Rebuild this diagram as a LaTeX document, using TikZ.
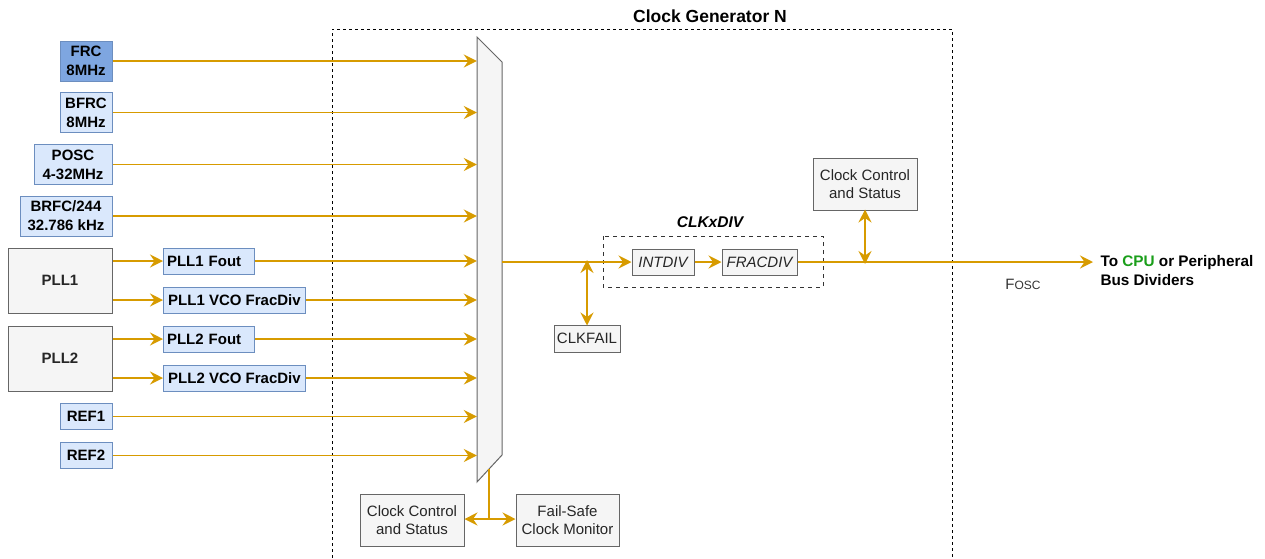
\documentclass[tikz,border=0pt]{standalone}
\usepackage{fontspec}
\setmainfont{Liberation Sans}
\usetikzlibrary{arrows.meta}
\definecolor{lnc}{HTML}{D79B00}
\definecolor{bfill}{HTML}{DAE8FC}
\definecolor{bdark}{HTML}{7EA6E0}
\definecolor{bstroke}{HTML}{6C8EBF}
\definecolor{gfill}{HTML}{F5F5F5}
\definecolor{gstroke}{HTML}{666666}
\definecolor{cpugreen}{HTML}{1A9E1A}
\begin{document}
\begin{tikzpicture}[x=1pt,y=-1pt,
  font=\fontsize{15}{18}\selectfont,
  bbox/.style={draw=bstroke,fill=bfill,line width=1pt,inner sep=0pt,align=center,font=\fontsize{15}{19}\selectfont\bfseries},
  gbox/.style={draw=gstroke,fill=gfill,line width=1pt,inner sep=0pt,align=center,text=black!85},
  ln/.style={draw=lnc,line width=1.8pt},
  arr/.style={ln,-{Stealth[length=13pt,width=13pt,inset=4.5pt]}},
  arrb/.style={ln,{Stealth[length=13pt,width=13pt,inset=4.5pt]}-{Stealth[length=13pt,width=13pt,inset=4.5pt]}}]
\useasboundingbox (0,0) rectangle (1265,558);
% outer dashed box
\draw[line width=1pt,dash pattern=on 3pt off 3pt] (332,558) -- (332,29) -- (952,29) -- (952,558);
\node[font=\fontsize{17.5}{20}\selectfont\bfseries] (title) at (710,16) {Clock Generator N};
% mux
\node[minimum width=25pt,minimum height=445pt,inner sep=0pt] (mux) at (489.5,259.5) {};
\draw[draw=gstroke,fill=gfill,line width=1pt] (477,37) -- (502,62) -- (502,455) -- (477,482) -- cycle;
% left sources
\node[bbox,fill=bdark,minimum width=52pt,minimum height=40pt] (frc) at (86,61) {FRC\\8MHz};
\node[bbox,minimum width=52pt,minimum height=40pt] (bfrc) at (86,112.5) {BFRC\\8MHz};
\node[bbox,minimum width=78pt,minimum height=40pt] (posc) at (73,164.5) {POSC\\4-32MHz};
\node[bbox,minimum width=92pt,minimum height=40pt] (brfc) at (66,216) {BRFC/244\\32.786 kHz};
\node[gbox,minimum width=104pt,minimum height=65pt,font=\fontsize{15}{18}\selectfont\bfseries] (pll1) at (60,280.5) {PLL1};
\node[gbox,minimum width=104pt,minimum height=65pt,font=\fontsize{15}{18}\selectfont\bfseries] (pll2) at (60,358.5) {PLL2};
\node[bbox,minimum width=91pt,minimum height=26pt,anchor=west,text width=89pt,align=left] (p1f) at (163,261) {\,PLL1 Fout};
\node[bbox,minimum width=142pt,minimum height=26pt,anchor=west] (p1v) at (163,300) {PLL1 VCO FracDiv};
\node[bbox,minimum width=91pt,minimum height=26pt,anchor=west,text width=89pt,align=left] (p2f) at (163,339) {\,PLL2 Fout};
\node[bbox,minimum width=142pt,minimum height=26pt,anchor=west] (p2v) at (163,378) {PLL2 VCO FracDiv};
\node[bbox,minimum width=52pt,minimum height=26pt] (ref1) at (86,416.5) {REF1};
\node[bbox,minimum width=52pt,minimum height=26pt] (ref2) at (86,455.5) {REF2};
% arrows into mux
\foreach \n in {frc,bfrc,posc,brfc,p1f,p1v,p2f,p2v,ref1,ref2}
  \draw[arr] (\n.east) -- (\n.east -| mux.west);
% PLL to outputs
\draw[arr] (pll1.east |- p1f) -- (p1f.west);
\draw[arr] (pll1.east |- p1v) -- (p1v.west);
\draw[arr] (pll2.east |- p2f) -- (p2f.west);
\draw[arr] (pll2.east |- p2v) -- (p2v.west);
% CLKxDIV
\draw[draw=black!80,line width=1pt,dash pattern=on 4pt off 4pt] (603,236) rectangle (823,287);
\node[font=\fontsize{15.5}{18}\selectfont\bfseries\itshape] (clkx) at (710,222) {CLKxDIV};
\node[gbox,minimum width=62pt,minimum height=26pt,font=\fontsize{15}{18}\selectfont\itshape] (intdiv) at (663,262) {INTDIV};
\node[gbox,minimum width=75pt,minimum height=26pt,font=\fontsize{15}{18}\selectfont\itshape] (fracdiv) at (759.5,262) {FRACDIV};
\draw[arr] (mux.east |- intdiv) -- (intdiv.west);
\draw[arr] (intdiv.east) -- (fracdiv.west);
% CLKFAIL
\node[gbox,minimum width=66pt,minimum height=27pt] (clkfail) at (587,338.5) {CLKFAIL};
\draw[arrb] ([yshift=-1pt]clkfail.north) -- ([yshift=2pt]clkfail.north |- intdiv);
% output
\coordinate (out) at (1093,262);
\draw[arr] (fracdiv.east) -- (out);
\node[gbox,minimum width=104pt,minimum height=52pt] (ccs1) at (865,184) {Clock Control\\and Status};
\draw[arrb] ([yshift=1pt]ccs1.south) -- ([yshift=-2pt]ccs1.south |- fracdiv);
\node[anchor=west,align=left,font=\fontsize{15.3}{19}\selectfont\bfseries] (dest) at (1097,270.5) {To \textcolor{cpugreen}{CPU} or Peripheral\\Bus Dividers};
\node[text=black!80] (fosc) at (1023,284) {F{\fontsize{12}{14}\selectfont OSC}};
% bottom
\node[gbox,minimum width=104pt,minimum height=52pt] (ccs2) at (412,520) {Clock Control\\and Status};
\node[gbox,minimum width=103pt,minimum height=52pt] (fscm) at (567.5,520) {Fail-Safe\\Clock Monitor};
\coordinate (mb) at (489,469);
\coordinate (jn) at (489,519);
\draw[ln] (mb) -- (jn);
\draw[arrb] (ccs2.east |- jn) -- (fscm.west |- jn);
\end{tikzpicture}
\end{document}
